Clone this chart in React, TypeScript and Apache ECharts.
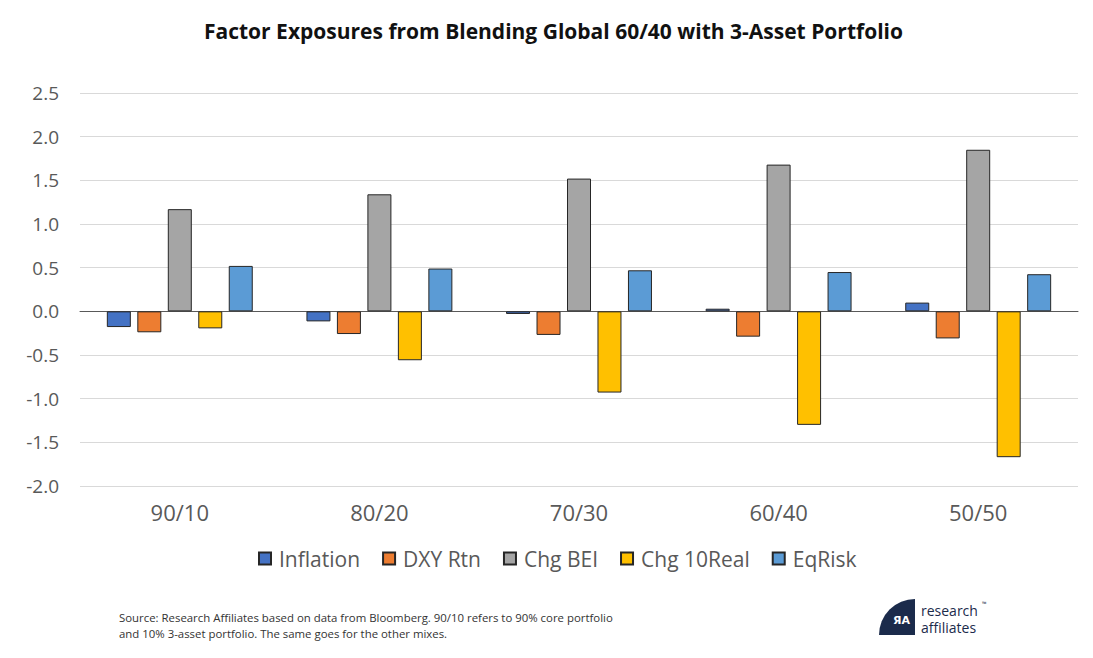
import React, { useEffect, useRef } from "react";
import * as echarts from "echarts";

const categories = ["90/10", "80/20", "70/30", "60/40", "50/50"];
const seriesNames = ["Inflation", "DXY Rtn", "Chg BEI", "Chg 10Real", "EqRisk"];
const inflation = [-0.18, -0.115, -0.03, 0.03, 0.1];
const dxyRtn = [-0.24, -0.26, -0.27, -0.29, -0.31];
const chgBEI = [1.17, 1.34, 1.52, 1.68, 1.85];
const chg10Real = [-0.195, -0.56, -0.93, -1.3, -1.67];
const eqRisk = [0.52, 0.49, 0.47, 0.45, 0.425];
const yTicks = { min: -2.0, max: 2.5, interval: 0.5 };

const colors = ["#4472C4", "#ED7D31", "#A5A5A5", "#FFC000", "#5B9BD5"];
const FONT = "'Open Sans', 'Noto Sans', sans-serif";

echarts.graphic.registerShape(
  "logo",
  (echarts.graphic as any).extendPath("M0 36 A36 36 0 0 1 36 0 L36 36 Z", {})
);

export default function App() {
  const ref = useRef<HTMLDivElement>(null);
  useEffect(() => {
    if (!ref.current) return;
    const chart = echarts.init(ref.current, null, { renderer: "svg" });
    const datasets = [inflation, dxyRtn, chgBEI, chg10Real, eqRisk];
    const option: any = {
      animation: false,
      backgroundColor: "#ffffff",
      title: {
        text: "Factor Exposures from Blending Global 60/40 with 3-Asset Portfolio",
        left: 199,
        top: 15,
        textStyle: { fontFamily: FONT, fontWeight: "bold", fontSize: 21, color: "#111111" },
      },
      grid: { left: 80, right: 15, top: 93, bottom: 172, containLabel: false },
      legend: {
        data: seriesNames,
        top: 543,
        left: 253,
        itemWidth: 12,
        itemHeight: 12,
        itemGap: 22,
        icon: "rect",
        textStyle: { fontFamily: FONT, fontSize: 21, color: "#595959", padding: [0, 0, 0, 3] },
      },
      xAxis: [
        {
          type: "category",
          data: categories,
          axisLine: { show: false, onZero: false },
          axisTick: { show: false },
          axisLabel: { fontFamily: FONT, fontSize: 22, color: "#595959", margin: 15 },
        },
        {
          type: "category",
          data: categories,
          position: "bottom",
          axisLine: { show: true, onZero: true, lineStyle: { color: "#595959", width: 1 } },
          axisTick: { show: false },
          axisLabel: { show: false },
        },
      ],
      yAxis: {
        type: "value",
        min: yTicks.min,
        max: yTicks.max,
        interval: yTicks.interval,
        axisLine: { show: false },
        axisTick: { show: false },
        splitLine: { lineStyle: { color: "#D9D9D9", width: 1 } },
        axisLabel: {
          fontFamily: FONT,
          fontSize: 19,
          color: "#595959",
          margin: 21,
          formatter: (v: number) => v.toFixed(1),
        },
      },
      series: seriesNames.map((name, i) => ({
        name,
        type: "bar",
        xAxisIndex: 0,
        data: datasets[i],
        barWidth: 24,
        barGap: "27%",
        barCategoryGap: "27%",
        itemStyle: { color: colors[i], borderColor: "#262626", borderWidth: 1 },
      })),
      graphic: [
        {
          type: "text",
          left: 119,
          top: 609,
          style: {
            text:
              "Source: Research Affiliates based on data from Bloomberg. 90/10 refers to 90% core portfolio\nand 10% 3-asset portfolio. The same goes for the other mixes.",
            fontFamily: FONT,
            fontSize: 11.4,
            lineHeight: 16,
            fill: "#333333",
          },
        },
        {
          type: "logo",
          x: 879,
          y: 599,
          style: { fill: "#1B2B4B" },
        },
        {
          type: "text",
          x: 893,
          y: 620,
          style: {
            text: "ЯA",
            fontFamily: "'DejaVu Sans', sans-serif",
            fontWeight: "bold",
            fontSize: 11,
            fill: "#ffffff",
            align: "left",
            verticalAlign: "middle",
          },
        },
        {
          type: "text",
          x: 921,
          y: 610,
          style: {
            text: "research",
            fontFamily: FONT,
            fontSize: 14,
            fill: "#1B2B4B",
            verticalAlign: "middle",
          },
        },
        {
          type: "text",
          x: 921,
          y: 627,
          style: {
            text: "affiliates",
            fontFamily: FONT,
            fontSize: 14,
            fill: "#1B2B4B",
            verticalAlign: "middle",
          },
        },
        {
          type: "text",
          x: 982,
          y: 601,
          style: { text: "™", fontFamily: FONT, fontSize: 6, fill: "#1B2B4B" },
        },
      ],
    };
    chart.setOption(option);
    return () => chart.dispose();
  }, []);
  return (
    <div
      ref={ref}
      style={{ position: "fixed", left: 0, top: 0, width: 1093, height: 658 }}
    />
  );
}
